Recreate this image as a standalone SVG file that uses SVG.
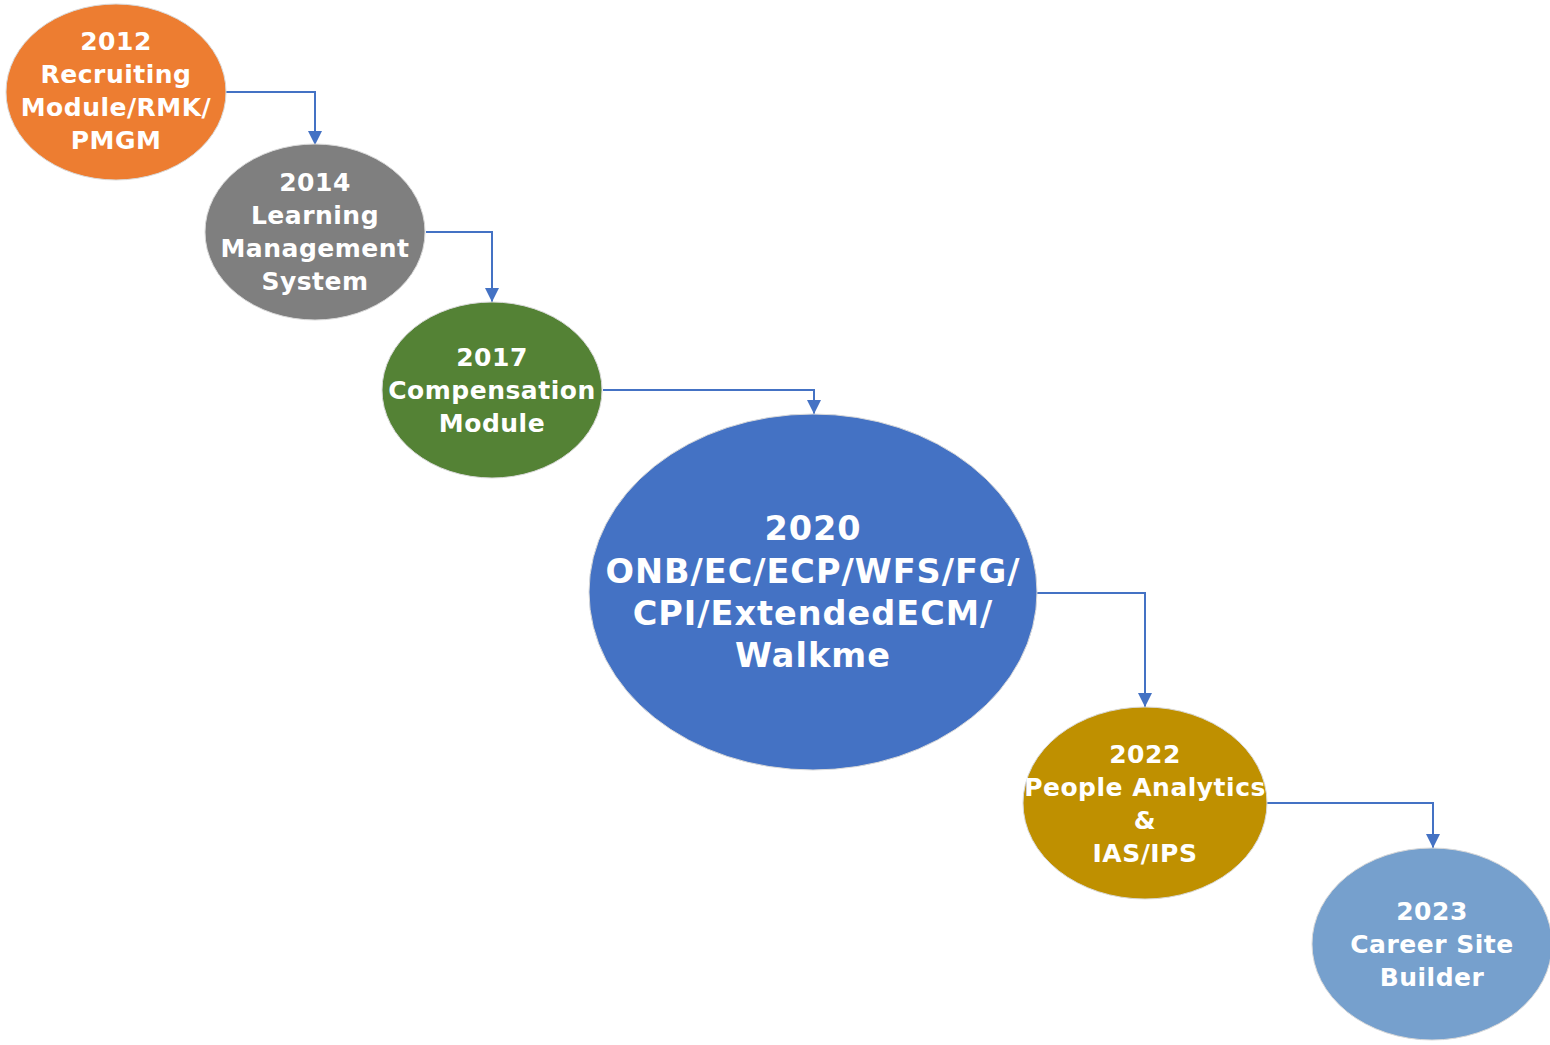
<svg xmlns="http://www.w3.org/2000/svg" width="1550" height="1045" viewBox="0 0 1550 1045">
  <style>
    .lbl { font-family: "DejaVu Sans", Verdana, sans-serif; font-weight: bold; fill: #ffffff; text-anchor: middle; font-size: 25px; letter-spacing: 0.5px; }
    .big { font-size: 33.5px; letter-spacing: 1px; }
    .link { fill: none; stroke: #4472C4; stroke-width: 2; }
    .node ellipse { stroke: #d9d9d9; stroke-width: 1; }
  </style>
  <defs>
    <marker id="arrow" viewBox="0 0 14 14" refX="14" refY="7" markerWidth="14" markerHeight="14" markerUnits="userSpaceOnUse" orient="auto">
      <path d="M0,0 L14,7 L0,14 Z" fill="#4472C4"/>
    </marker>
  </defs>
  <rect width="1550" height="1045" fill="#ffffff"/>

  <!-- connectors between milestones -->
  <g id="connectors">
    <path class="link" d="M226,92 H315 V145" marker-end="url(#arrow)"/>
    <path class="link" d="M426,232 H492 V302" marker-end="url(#arrow)"/>
    <path class="link" d="M603,390 H814 V414" marker-end="url(#arrow)"/>
    <path class="link" d="M1037,593 H1145 V707" marker-end="url(#arrow)"/>
    <path class="link" d="M1267,803 H1433 V848" marker-end="url(#arrow)"/>
  </g>

  <g id="node-2012" class="node">
    <ellipse cx="116" cy="92" rx="110" ry="88" fill="#ED7D31"/>
    <text class="lbl" x="116" y="50">2012</text>
    <text class="lbl" x="116" y="83">Recruiting</text>
    <text class="lbl" x="116" y="116">Module/RMK/</text>
    <text class="lbl" x="116" y="149">PMGM</text>
  </g>

  <g id="node-2014" class="node">
    <ellipse cx="315" cy="232" rx="110" ry="88" fill="#7F7F7F"/>
    <text class="lbl" x="315" y="191">2014</text>
    <text class="lbl" x="315" y="224">Learning</text>
    <text class="lbl" x="315" y="257">Management</text>
    <text class="lbl" x="315" y="290">System</text>
  </g>

  <g id="node-2017" class="node">
    <ellipse cx="492" cy="390" rx="110" ry="88" fill="#548235"/>
    <text class="lbl" x="492" y="366">2017</text>
    <text class="lbl" x="492" y="399">Compensation</text>
    <text class="lbl" x="492" y="432">Module</text>
  </g>

  <g id="node-2020" class="node">
    <ellipse cx="813" cy="592" rx="224" ry="178" fill="#4472C4"/>
    <text class="lbl big" x="813" y="540">2020</text>
    <text class="lbl big" x="813" y="583">ONB/EC/ECP/WFS/FG/</text>
    <text class="lbl big" x="813" y="625">CPI/ExtendedECM/</text>
    <text class="lbl big" x="813" y="667">Walkme</text>
  </g>

  <g id="node-2022" class="node">
    <ellipse cx="1145" cy="803" rx="122" ry="96" fill="#BF9000"/>
    <text class="lbl" x="1145" y="763">2022</text>
    <text class="lbl" x="1145" y="796">People Analytics</text>
    <text class="lbl" x="1145" y="829">&amp;</text>
    <text class="lbl" x="1145" y="862">IAS/IPS</text>
  </g>

  <g id="node-2023" class="node">
    <ellipse cx="1432" cy="944" rx="120" ry="96" fill="#76A0CD"/>
    <text class="lbl" x="1432" y="920">2023</text>
    <text class="lbl" x="1432" y="953">Career Site</text>
    <text class="lbl" x="1432" y="986">Builder</text>
  </g>
</svg>
